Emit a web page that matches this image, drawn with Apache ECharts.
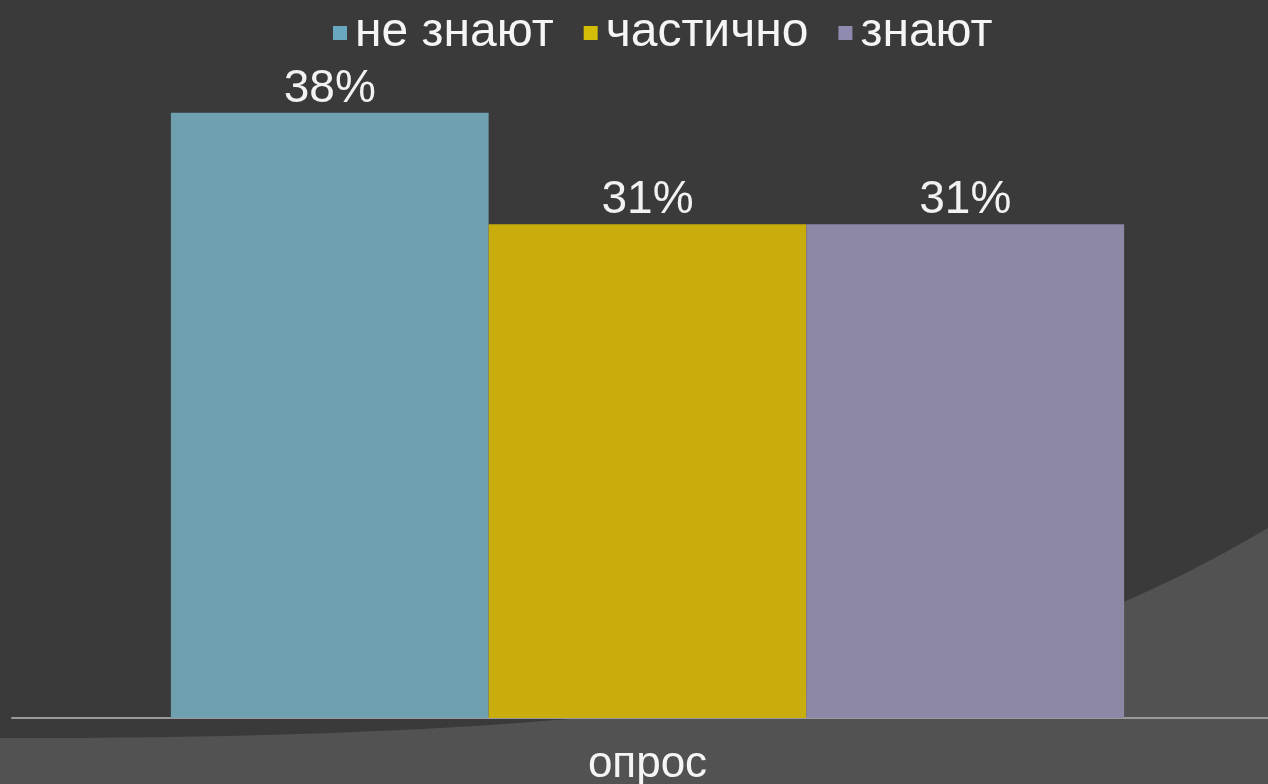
<!DOCTYPE html>
<html>
<head>
<meta charset="utf-8">
<script src="https://cdn.jsdelivr.net/npm/echarts@6/dist/echarts.min.js"></script>
<style>
  html, body { margin: 0; padding: 0; background: #3a3a3a; }
  #chart { width: 1268px; height: 784px; }
</style>
</head>
<body>
<div id="chart"></div>
<script>
// данные опроса
const categories = ['опрос'];
const seriesNames = ['не знают', 'частично', 'знают'];
const values = [38, 31, 31];
const colors = ['#6fa0b0', '#c9ad0c', '#8c88a6'];
const legendColors = ['#6aa8c0', '#d4bd06', '#8e8ab0'];

const chart = echarts.init(document.getElementById('chart'));
const font = "'Liberation Sans', Arial, sans-serif";

// фон слайда: светлая дуга внизу справа (только декор)
function swoosh() {
  const p0 = [0, 738], p1 = [820, 740], p2 = [1060, 650], p3 = [1268, 528];
  const pts = [];
  for (let k = 0; k <= 60; k++) {
    const t = k / 60, u = 1 - t;
    const a = u * u * u, b = 3 * u * u * t, c = 3 * u * t * t, d = t * t * t;
    pts.push([a * p0[0] + b * p1[0] + c * p2[0] + d * p3[0],
              a * p0[1] + b * p1[1] + c * p2[1] + d * p3[1]]);
  }
  pts.push([1268, 784], [0, 784]);
  return pts;
}

const series = seriesNames.map((name, i) => ({
  name: name,
  type: 'bar',
  data: [values[i]],
  barGap: '0%',
  barCategoryGap: '25%',
  itemStyle: { color: colors[i] },
  label: {
    show: true,
    position: 'top',
    distance: 1,
    formatter: '{c}%',
    color: '#f2f2f2',
    fontSize: 46,
    fontFamily: font
  }
}));

const option = {
  backgroundColor: '#3a3a3a',
  animation: false,
  color: colors,
  graphic: [
    {
      type: 'polygon',
      z: -10,
      silent: true,
      shape: { points: swoosh() },
      style: { fill: '#525252' }
    }
  ],
  legend: {
    top: 4,
    left: 328,
    icon: 'rect',
    itemWidth: 14,
    itemHeight: 14,
    itemGap: 30,
    data: seriesNames.map((n, i) => ({ name: n, itemStyle: { color: legendColors[i] } })),
    textStyle: { color: '#f5f5f5', fontSize: 48, fontFamily: font, padding: [0, 0, 0, 3] }
  },
  grid: { left: 12, right: -15, top: 81, bottom: 66, outerBoundsMode: 'none' },
  xAxis: {
    type: 'category',
    data: categories,
    axisLine: { lineStyle: { color: '#9a9a9a', width: 2 } },
    axisTick: { show: false },
    axisLabel: { color: '#f5f5f5', fontSize: 44, fontFamily: font, margin: 25 }
  },
  yAxis: {
    type: 'value',
    min: 0,
    max: 40,
    show: false,
    splitLine: { show: false }
  },
  series: series
};

chart.setOption(option);
</script>
</body>
</html>
